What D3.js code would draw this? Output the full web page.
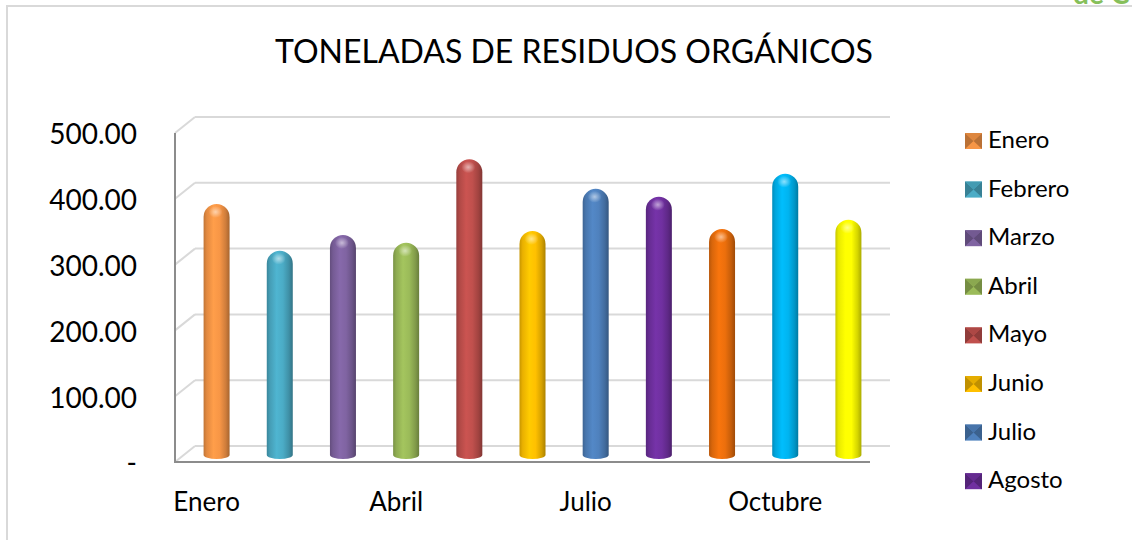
<!DOCTYPE html>
<html>
<head>
<meta charset="utf-8">
<script src="https://cdn.jsdelivr.net/npm/d3@7"></script>
<style>
	body { margin: 0; background: #fff; }
	text { font-family: Lato, 'Open Sans', sans-serif; fill: #000; }
</style>
</head>
<body>
<div id="dataviz"></div>
<script>
const months = ['Enero', 'Febrero', 'Marzo', 'Abril', 'Mayo', 'Junio', 'Julio', 'Agosto', 'Septiembre', 'Octubre', 'Noviembre'];
const tons = [380, 309, 333, 321, 448, 339, 403, 391, 342, 426, 356];
const barColors = ['#f79646', '#4bacc6', '#8064a2', '#9bbb59', '#c0504d', '#ffc000', '#4f81bd', '#7030a0', '#ec6f0c', '#00b4f0', '#ffff00'];
const yTicks = [0, 100, 200, 300, 400, 500];
const xLabels = ['Enero', 'Abril', 'Julio', 'Octubre'];

window.onload = function() {

	const width = 1132;
	const height = 540;
	const depthX = 20;
	const depthY = 16;

	const svg = d3.select('#dataviz')
		.append('svg')
		.attr('width', width)
		.attr('height', height)

	const defs = svg.append('defs');

	// frame of the chart area
	svg.append('path')
		.attr('d', 'M7,540 V6 H1132')
		.attr('fill', 'none')
		.attr('stroke', '#d9d9d9')
		.attr('stroke-width', 2)

	// leftover of the page behind the chart (top right)
	svg.append('text')
		.attr('x', 1073)
		.attr('y', 4)
		.style('font-size', '28px')
		.style('font-weight', 'bold')
		.style('fill', '#86bf5a')
		.text('de C')

	svg.append('text')
		.attr('x', 574)
		.attr('y', 63)
		.attr('text-anchor', 'middle')
		.style('font-size', '32px')
		.text('TONELADAS DE RESIDUOS ORGÁNICOS')

	// mid depth plane, where the cylinders stand
	const xScale = d3.scaleBand()
		.domain(months)
		.range([185, 880])

	const yScale = d3.scaleLinear()
		.domain([0, 500])
		.range([454, 125])

	const xFront = xScale.copy().range([185 - depthX / 2, 880 - depthX / 2]);
	const yFront = yScale.copy().range([454 + depthY / 2, 125 + depthY / 2]);

	// back wall gridlines + side wall diagonals
	const grid = svg.append('g');
	yTicks.forEach(t => {
		const yb = yScale(t) - depthY / 2;
		grid.append('line')
			.attr('x1', 185 + depthX / 2).attr('x2', 880 + depthX / 2)
			.attr('y1', yb).attr('y2', yb)
			.attr('stroke', '#d9d9d9')
			.attr('stroke-width', 2)
		grid.append('line')
			.attr('x1', 185 - depthX / 2).attr('x2', 185 + depthX / 2)
			.attr('y1', yb + depthY).attr('y2', yb)
			.attr('stroke', '#d9d9d9')
			.attr('stroke-width', 2)
	});

	// left wall and floor edges
	svg.append('path')
		.attr('d', `M${185 - depthX / 2},${yFront(500)} V${yFront(0)} H${880 - depthX / 2}`)
		.attr('fill', 'none')
		.attr('stroke', '#8c8c8c')
		.attr('stroke-width', 2)

	// cylinders
	barColors.forEach((c, i) => {
		const base = d3.color(c);
		const grad = defs.append('linearGradient')
			.attr('id', 'cyl' + i)
			.attr('x1', 0).attr('x2', 1).attr('y1', 0).attr('y2', 0)
		const stops = [
			[0, base.darker(0.7)],
			[0.12, base.darker(0.25)],
			[0.38, base.brighter(0.15)],
			[0.62, base],
			[0.85, base.darker(0.5)],
			[1, base.darker(1.1)]
		];
		stops.forEach(s => {
			grad.append('stop')
				.attr('offset', s[0])
				.attr('stop-color', s[1].formatHex())
		});
	});

	const hl = defs.append('radialGradient')
		.attr('id', 'hl')
	hl.append('stop').attr('offset', 0).attr('stop-color', '#fff').attr('stop-opacity', 0.55)
	hl.append('stop').attr('offset', 1).attr('stop-color', '#fff').attr('stop-opacity', 0)

	const r = 13;
	const bars = svg.append('g')
		.selectAll('g')
		.data(tons)
		.join('g')

	bars.append('path')
		.attr('d', (d, i) => {
			const cx = xScale(months[i]) + xScale.bandwidth() / 2;
			const top = yScale(d);
			const y0 = yScale(0) + 1;
			return `M${cx - r},${y0} V${top + r} A${r},${r} 0 0 1 ${cx + r},${top + r} V${y0} A${r},4 0 0 1 ${cx - r},${y0} Z`;
		})
		.attr('fill', (d, i) => `url(#cyl${i})`)

	bars.append('ellipse')
		.attr('cx', (d, i) => xScale(months[i]) + xScale.bandwidth() / 2 - 1)
		.attr('cy', d => yScale(d) + 8)
		.attr('rx', 7)
		.attr('ry', 6)
		.attr('fill', 'url(#hl)')

	// y axis on the front plane
	const yAxis = d3.axisLeft(yFront)
		.tickValues(yTicks)
		.tickSize(0)
		.tickPadding(38)
		.tickFormat(d => d === 0 ? '-' : d3.format('.2f')(d))

	const yAxisG = svg.append('g')
		.attr('transform', `translate(${185 - depthX / 2}, 2)`)
		.call(yAxis)
	yAxisG.select('.domain').remove();
	yAxisG.selectAll('text')
		.style('font-size', '28px')
		.style('font-family', 'Lato, sans-serif')
		.attr('fill', '#000')

	const xAxis = d3.axisBottom(xFront)
		.tickValues(xLabels)
		.tickSize(0)
		.tickPadding(31)

	const xAxisG = svg.append('g')
		.attr('transform', `translate(0, ${yFront(0)})`)
		.call(xAxis)
	xAxisG.select('.domain').remove();
	xAxisG.selectAll('text')
		.style('font-size', '26px')
		.style('font-family', 'Lato, sans-serif')
		.attr('fill', '#000')

	// legend: only the entries that fit in the box are shown, like the source
	const legendTop = 133;
	const legendStep = 48.6;
	const legendBottom = 505;
	const shown = months.filter((d, i) => legendTop + i * legendStep + 16 < legendBottom);

	const legend = svg.append('g')
		.selectAll('g')
		.data(shown)
		.join('g')
		.attr('transform', (d, i) => `translate(965, ${legendTop + i * legendStep})`)

	legend.append('rect')
		.attr('width', 17)
		.attr('height', 16)
		.attr('fill', (d, i) => barColors[i])

	legend.append('path')
		.attr('d', 'M0,0 L8.5,8 L0,16 Z M17,0 L8.5,8 L17,16 Z')
		.attr('fill', (d, i) => d3.color(barColors[i]).darker(0.8).formatHex())

	legend.append('path')
		.attr('d', 'M0,0 H17 L8.5,8 Z')
		.attr('fill', (d, i) => d3.color(barColors[i]).darker(0.3).formatHex())

	legend.append('text')
		.attr('x', 23)
		.attr('y', 15)
		.style('font-size', '24px')
		.text(d => d)
}
</script>
</body>
</html>
